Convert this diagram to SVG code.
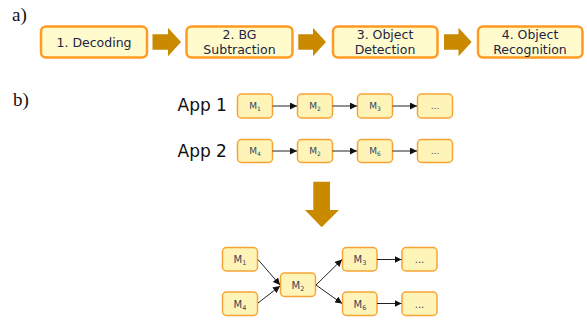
<svg xmlns="http://www.w3.org/2000/svg" width="587" height="323" viewBox="0 0 587 323">
<defs>
<style>
.lbl{font-family:"Liberation Serif",serif;font-size:19px;fill:#111}
.big{fill:#fffbcc;stroke:#ff9a22;stroke-width:2.5}
.bt{font-family:"DejaVu Sans",sans-serif;font-size:12.5px;fill:#1c2444;text-anchor:middle}
.m{fill:#fff4b8;stroke:#f7a436;stroke-width:1.5}
.mt{font-family:"DejaVu Sans",sans-serif;font-size:9px;fill:#34455a;text-anchor:middle}
.mt2{font-family:"DejaVu Sans",sans-serif;font-size:10px;fill:#34455a;text-anchor:middle}
.app{font-family:"DejaVu Sans",sans-serif;font-size:17px;fill:#111}
.fat{fill:#c98a00}
.c{stroke:#222;stroke-width:1;fill:none;marker-end:url(#ah)}
</style>
<marker id="ah" viewBox="0 0 10 10" refX="10" refY="5" markerWidth="7" markerHeight="7" markerUnits="userSpaceOnUse" orient="auto">
<path d="M0,0 L10,5 L0,10 z" fill="#111"/>
</marker>
</defs>
<text class="lbl" x="12" y="21">a)</text>
<text class="lbl" x="13" y="106">b)</text>

<g id="stage1"><rect class="big" x="41" y="26.5" width="106" height="31" rx="5"/><text class="bt" x="94" y="47">1. Decoding</text></g>
<g id="stage2"><rect class="big" x="186.5" y="26.5" width="106" height="31" rx="5"/><text class="bt" x="239.5" y="39">2. BG</text><text class="bt" x="239.5" y="54">Subtraction</text></g>
<g id="stage3"><rect class="big" x="333" y="26.5" width="104.5" height="31" rx="5"/><text class="bt" x="385" y="39">3. Object</text><text class="bt" x="385" y="54">Detection</text></g>
<g id="stage4"><rect class="big" x="478" y="26.5" width="104.5" height="31" rx="5"/><text class="bt" x="530" y="39">4. Object</text><text class="bt" x="530" y="54">Recognition</text></g>

<g id="fat-arrows">
<path class="fat" d="M152.5,34.3 H168 V27.7 L181,42 L168,56.3 V49.7 H152.5 z"/>
<path class="fat" d="M298.3,34.3 H313 V27.7 L326,42 L313,56.3 V49.7 H298.3 z"/>
<path class="fat" d="M444,34.3 H458.5 V27.7 L471.7,42 L458.5,56.3 V49.7 H444 z"/>
<path class="fat" d="M313.3,181.7 H330 V210 H339 L321.7,227.3 L305,210 H313.3 z"/>
</g>

<text class="app" x="177.5" y="110.5">App 1</text>
<text class="app" x="177.5" y="157">App 2</text>

<g id="a1m1"><rect class="m" x="237.5" y="94" width="35" height="24" rx="4"/><text class="mt" x="255" y="109">M<tspan font-size="6" dy="2">1</tspan></text></g>
<g id="a1m2"><rect class="m" x="297.5" y="94" width="35" height="24" rx="4"/><text class="mt" x="315" y="109">M<tspan font-size="6" dy="2">2</tspan></text></g>
<g id="a1m3"><rect class="m" x="357.5" y="94" width="35" height="24" rx="4"/><text class="mt" x="375" y="109">M<tspan font-size="6" dy="2">3</tspan></text></g>
<g id="a1m4"><rect class="m" x="417.5" y="94" width="35" height="24" rx="4"/><text class="mt" x="435" y="109">...</text></g>

<g id="a2m1"><rect class="m" x="237.5" y="139.5" width="35" height="23" rx="4"/><text class="mt" x="255" y="154">M<tspan font-size="6" dy="2">4</tspan></text></g>
<g id="a2m2"><rect class="m" x="297.5" y="139.5" width="35" height="23" rx="4"/><text class="mt" x="315" y="154">M<tspan font-size="6" dy="2">2</tspan></text></g>
<g id="a2m3"><rect class="m" x="357.5" y="139.5" width="35" height="23" rx="4"/><text class="mt" x="375" y="154">M<tspan font-size="6" dy="2">6</tspan></text></g>
<g id="a2m4"><rect class="m" x="417.5" y="139.5" width="35" height="23" rx="4"/><text class="mt" x="435" y="154">...</text></g>

<g id="cm1"><rect class="m" x="222.5" y="247.5" width="35" height="23.5" rx="4"/><text class="mt2" x="240" y="263">M<tspan font-size="6.5" dy="2">1</tspan></text></g>
<g id="cm4"><rect class="m" x="222.5" y="292" width="35" height="23.5" rx="4"/><text class="mt2" x="240" y="307.5">M<tspan font-size="6.5" dy="2">4</tspan></text></g>
<g id="cm2"><rect class="m" x="280.5" y="273" width="35" height="23.5" rx="4"/><text class="mt2" x="298" y="288.5">M<tspan font-size="6.5" dy="2">2</tspan></text></g>
<g id="cm3"><rect class="m" x="342.5" y="247.5" width="34.5" height="23.5" rx="4"/><text class="mt2" x="360" y="263">M<tspan font-size="6.5" dy="2">3</tspan></text></g>
<g id="cm6"><rect class="m" x="342.5" y="292" width="34.5" height="23.5" rx="4"/><text class="mt2" x="360" y="307.5">M<tspan font-size="6.5" dy="2">6</tspan></text></g>
<g id="cd1"><rect class="m" x="402" y="247.5" width="35" height="23.5" rx="4"/><text class="mt2" x="419.5" y="263">...</text></g>
<g id="cd2"><rect class="m" x="402" y="292" width="35" height="23.5" rx="4"/><text class="mt2" x="419.5" y="307.5">...</text></g>

<g id="connectors">
<line class="c" x1="272.5" y1="106" x2="297" y2="106"/>
<line class="c" x1="332.5" y1="106" x2="357" y2="106"/>
<line class="c" x1="392.5" y1="106" x2="417" y2="106"/>
<line class="c" x1="272.5" y1="151" x2="297" y2="151"/>
<line class="c" x1="332.5" y1="151" x2="357" y2="151"/>
<line class="c" x1="392.5" y1="151" x2="417" y2="151"/>
<line class="c" x1="258" y1="259.5" x2="280" y2="285"/>
<line class="c" x1="258" y1="303" x2="280" y2="286"/>
<line class="c" x1="316" y1="285" x2="342" y2="259.5"/>
<line class="c" x1="316" y1="285" x2="342" y2="303.5"/>
<line class="c" x1="377" y1="259.5" x2="401.5" y2="259.5"/>
<line class="c" x1="377" y1="303.5" x2="401.5" y2="303.5"/>
</g>
</svg>
